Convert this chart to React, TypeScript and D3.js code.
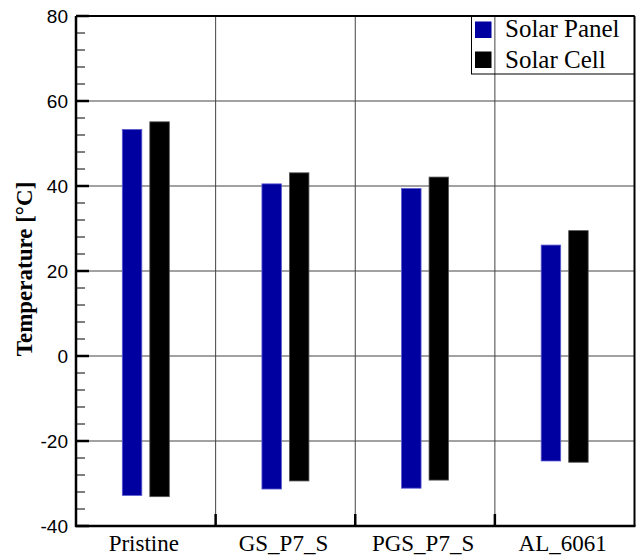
import React from "react";
import * as d3 from "d3";

const categories = ["Pristine", "GS_P7_S", "PGS_P7_S", "AL_6061"];
const seriesNames = ["Solar Panel", "Solar Cell"];
const panelMax = [53.3, 40.5, 39.4, 26.1];
const panelMin = [-32.8, -31.3, -31.1, -24.7];
const cellMax = [55.1, 43.1, 42.1, 29.5];
const cellMin = [-33.1, -29.4, -29.2, -25.0];
const yTicks = [-40, -20, 0, 20, 40, 60, 80];

const W = 643;
const H = 560;
const L = 76;
const R = 634.5;
const T = 16;
const B = 526;

const colors = ["#0000A0", "#000000"];
const strokes = ["#5a5ad0", "#555555"];

export default function App() {
  const x = d3.scaleBand<string>().domain(categories).range([L, R]).paddingInner(0).paddingOuter(0);
  const bw = x.bandwidth();
  const x1 = d3
    .scaleBand<string>()
    .domain(["panel", "cell"])
    .range([bw / 2 - 23.5, bw / 2 + 23.5])
    .paddingInner(0.291)
    .paddingOuter(0);
  const y = d3.scaleLinear().domain([-40, 80]).range([B, T]);
  const minorTicks = d3.range(-40, 80.01, 4).filter((v) => Math.abs(v % 20) > 0.01);

  const bars = categories.flatMap((c, i) => [
    { c, key: "panel", lo: panelMin[i], hi: panelMax[i], s: 0 },
    { c, key: "cell", lo: cellMin[i], hi: cellMax[i], s: 1 },
  ]);

  const boundaries = categories.slice(1).map((c) => x(c)!);

  return (
    <svg width={W} height={H} style={{ position: "absolute", left: 0, top: 0, background: "#fff" }}>
      {/* horizontal grid */}
      {yTicks.slice(1, -1).map((v) => (
        <line key={"hg" + v} x1={L} x2={R} y1={y(v)} y2={y(v)} stroke="#444" strokeWidth={1} />
      ))}
      {/* vertical grid at category boundaries */}
      {boundaries.map((bx, i) => (
        <line key={"vg" + i} x1={bx} x2={bx} y1={T} y2={B} stroke="#444" strokeWidth={1} />
      ))}
      {/* bars */}
      {bars.map((b, i) => (
        <rect
          key={"bar" + i}
          x={x(b.c)! + x1(b.key)!}
          width={x1.bandwidth()}
          y={y(b.hi)}
          height={y(b.lo) - y(b.hi)}
          fill={colors[b.s]}
          stroke={strokes[b.s]}
          strokeWidth={0.8}
        />
      ))}
      {/* y ticks */}
      {yTicks.map((v) => (
        <line key={"mt" + v} x1={L} x2={L + 13} y1={y(v)} y2={y(v)} stroke="#000" strokeWidth={2.5} />
      ))}
      {minorTicks.map((v) => (
        <line key={"mn" + v} x1={L} x2={L + 9} y1={y(v)} y2={y(v)} stroke="#000" strokeWidth={1} />
      ))}
      {/* x ticks at boundaries */}
      {boundaries.map((bx, i) => (
        <line key={"xt" + i} x1={bx} x2={bx} y1={B} y2={B - 12} stroke="#000" strokeWidth={2.5} />
      ))}
      {/* frame */}
      <line x1={L} x2={R} y1={T} y2={T} stroke="#000" strokeWidth={2} />
      <line x1={R} x2={R} y1={T} y2={B} stroke="#000" strokeWidth={2} />
      <line x1={L} x2={L} y1={T} y2={B + 1} stroke="#000" strokeWidth={2.5} />
      <line x1={L - 1} x2={R + 1} y1={B} y2={B} stroke="#000" strokeWidth={2.5} />
      {/* y tick labels */}
      {yTicks.map((v) => (
        <text
          key={"yl" + v}
          x={68}
          y={y(v)}
          dy="0.36em"
          textAnchor="end"
          fontFamily="Liberation Sans, Arial, sans-serif"
          fontSize={19}
          fill="#000"
        >
          {v}
        </text>
      ))}
      {/* x labels */}
      {categories.map((c) => (
        <text
          key={"xl" + c}
          x={x(c)! + bw / 2 - 2}
          y={551}
          textAnchor="middle"
          fontFamily="Liberation Serif, Times New Roman, serif"
          fontSize={23}
          fill="#000"
        >
          {c}
        </text>
      ))}
      {/* y title */}
      <text
        transform={`translate(31.5, 269) rotate(-90)`}
        textAnchor="middle"
        fontFamily="Liberation Serif, Times New Roman, serif"
        fontWeight="bold"
        fontSize={23}
        fill="#000"
      >
        Temperature [°C]
      </text>
      {/* legend */}
      <rect x={471.5} y={T} width={R - 471.5} height={58} fill="none" stroke="#000" strokeWidth={1} />
      {seriesNames.map((n, i) => (
        <g key={"lg" + n}>
          <rect x={475} y={21.5 + i * 30} width={16.5} height={16.5} fill={colors[i]} />
          <text
            x={505}
            y={37 + i * 31}
            fontFamily="Liberation Serif, Times New Roman, serif"
            fontSize={25}
            fill="#000"
          >
            {n}
          </text>
        </g>
      ))}
    </svg>
  );
}
